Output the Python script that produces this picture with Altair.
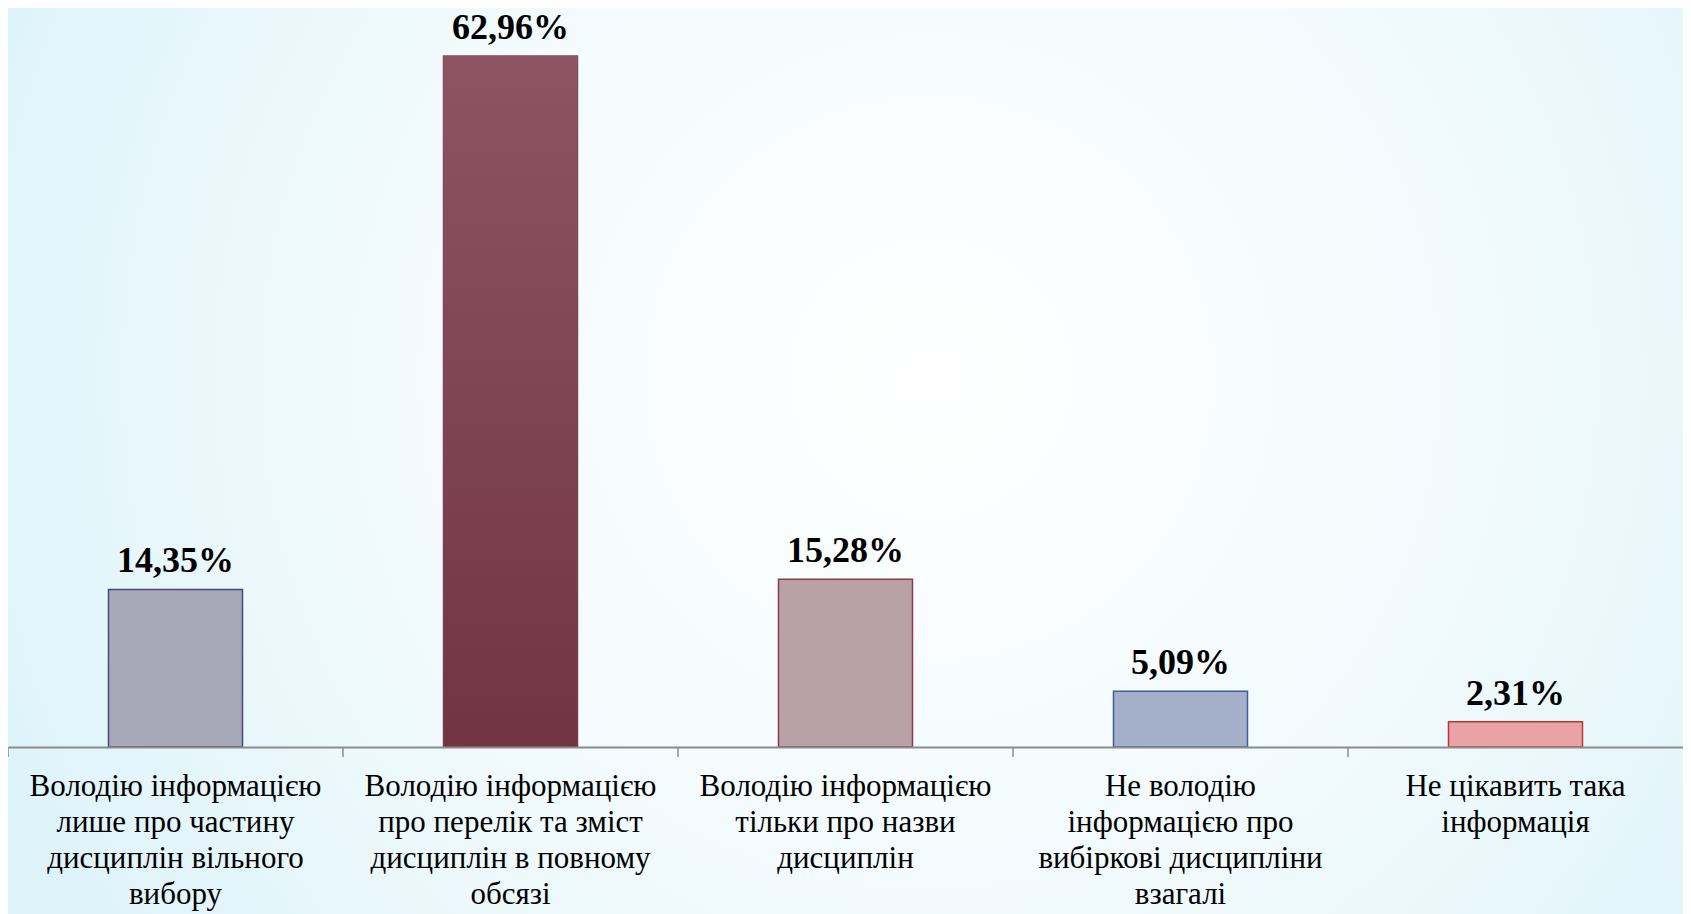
import altair as alt
import pandas as pd

categories = [
    "Володію інформацією|лише про частину|дисциплін вільного|вибору",
    "Володію інформацією|про перелік та зміст|дисциплін в повному|обсязі",
    "Володію інформацією|тільки про назви|дисциплін",
    "Не володію|інформацією про|вибіркові дисципліни|взагалі",
    "Не цікавить така|інформація",
]
values = [14.35, 62.96, 15.28, 5.09, 2.31]
fills = ["#A7A9B9", "#80475A", "#B8A2A6", "#A4AFC9", "#E9A3A6"]
strokes = ["#404A7C", "#80475A", "#8A3C4E", "#3D5E9C", "#C83040"]

df = pd.DataFrame({"cat": categories, "value": values})

W = 1675
H = 739
BOTTOM = 168
SERIF = "Liberation Serif, DejaVu Serif, serif"

xenc = alt.X(
    "cat:N",
    sort=categories,
    scale=alt.Scale(paddingInner=0, paddingOuter=0),
    axis=alt.Axis(
        title=None,
        labelExpr="split(datum.label, '|')",
        labelAngle=0,
        labelFont=SERIF,
        labelFontSize=31,
        labelColor="black",
        labelLimit=400,
        labelLineHeight=36,
        labelPadding=24,
        labelBaseline="top",
        labelAlign="center",
        ticks=False,
        tickSize=0,
        domainColor="#8C8C8C",
        domainWidth=2,
        grid=False,
        zindex=1,
    ),
)
yenc = alt.Y("value:Q", scale=alt.Scale(domain=[0, 67.33], nice=False, zero=True), axis=None)

bg = alt.Chart(pd.DataFrame({"a": [0]})).mark_rect(
    fill=alt.RadialGradient(
        gradient="radial",
        stops=[
            alt.GradientStop(offset=0, color="#FFFFFF"),
            alt.GradientStop(offset=0.45, color="#F1FAFD"),
            alt.GradientStop(offset=1, color="#D3F0F8"),
        ],
        x1=0.55, y1=0.45, r1=0,
        x2=0.55, y2=0.45, r2=0.75,
    )
).encode(
    x=alt.value(0), x2=alt.value(W), y=alt.value(0), y2=alt.value(H + BOTTOM)
)

base = alt.Chart(df)

bars = base.mark_bar(width=alt.RelativeBandSize(0.4), strokeWidth=1.5).encode(
    x=xenc,
    y=yenc,
    fill=alt.Fill("cat:N", scale=alt.Scale(domain=categories, range=fills), legend=None),
    stroke=alt.Stroke("cat:N", scale=alt.Scale(domain=categories, range=strokes), legend=None),
)

grad_bar = base.mark_bar(
    width=alt.RelativeBandSize(0.4),
    fill=alt.LinearGradient(
        gradient="linear",
        stops=[
            alt.GradientStop(offset=0, color="#8C5561"),
            alt.GradientStop(offset=1, color="#723442"),
        ],
        x1=0, x2=0, y1=0, y2=1,
    ),
    strokeWidth=0,
).encode(x=xenc, y=yenc).transform_filter(alt.datum.cat == categories[1])

ticks = base.mark_rule(color="#8C8C8C", strokeWidth=1.5).encode(
    x=alt.X("cat:N", sort=categories, bandPosition=0),
    y=alt.value(H),
    y2=alt.value(H + 10),
)

labels = base.transform_calculate(
    lab="replace(format(datum.value, '.2f'), '.', ',') + '%'"
).mark_text(
    font=SERIF,
    fontSize=36,
    fontWeight="bold",
    color="black",
    baseline="alphabetic",
    align="center",
    dy=-17,
).encode(x=xenc, y=yenc, text="lab:N")

chart = alt.layer(bg, bars, grad_bar, ticks, labels).properties(
    width=W,
    height=H,
    autosize=alt.AutoSizeParams(type="none"),
    padding={"left": 0, "right": 0, "top": 0, "bottom": BOTTOM},
).configure_view(stroke=None).configure(background="#E2F5FA", font=SERIF).configure_axis(labelFont=SERIF)

chart.save("out.html", embed_options={"renderer": "svg", "actions": False})
